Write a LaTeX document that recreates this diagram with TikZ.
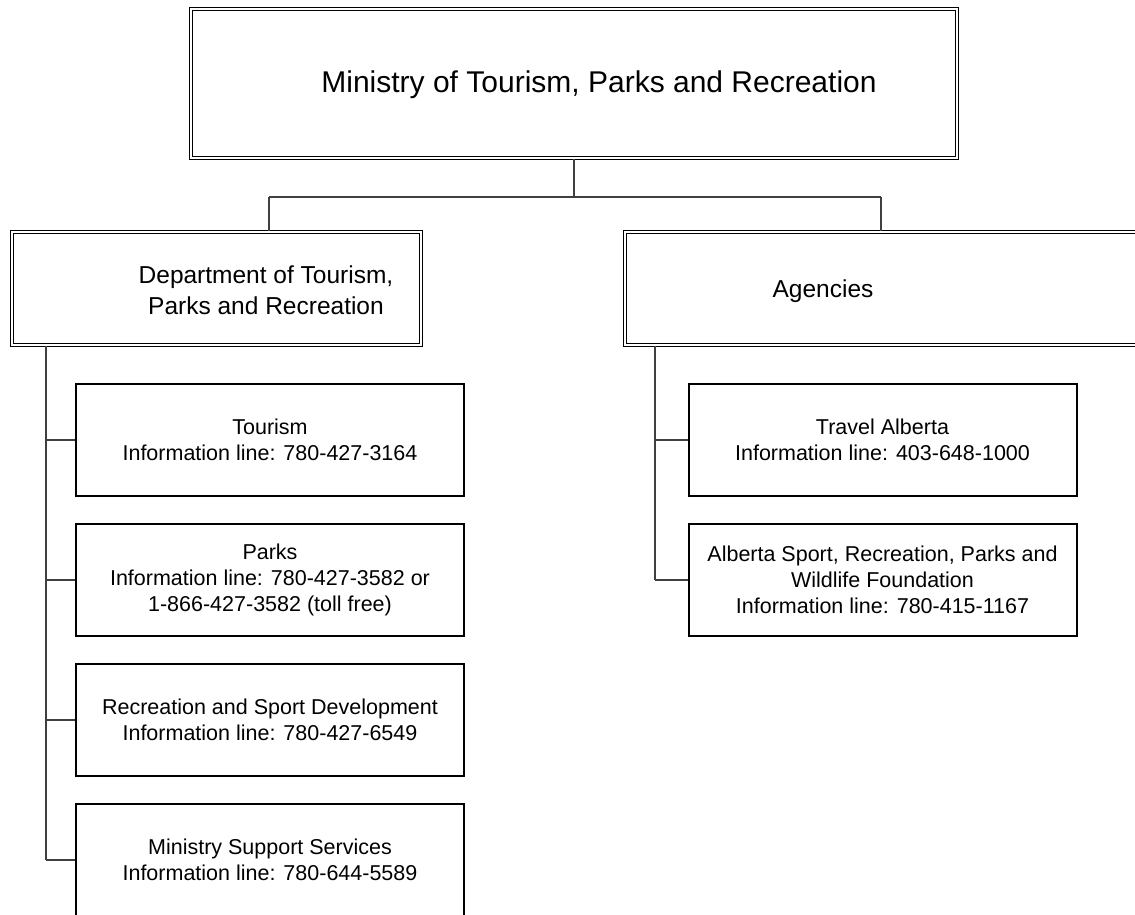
\documentclass[tikz,border=0pt]{standalone}
\usepackage{fontspec}
\setmainfont{Liberation Sans}
\usepackage{tikz}
\usetikzlibrary{positioning, calc}

\begin{document}
\begin{tikzpicture}[
  x=0.5pt, y=-0.5pt,
  dbox/.style={draw, line width=0.7pt, double, double distance=0.8pt, inner sep=0pt},
  ubox/.style={draw, line width=1pt, inner sep=0pt, minimum width=194pt, minimum height=56pt,
    align=center, font=\fontsize{10.75}{13}\selectfont},
  conn/.style={draw, line width=0.55pt, black!75}
  ]
  \clip (0,0) rectangle (1135,915);
  % top level
  \node[dbox, minimum width=383pt, minimum height=74.5pt] (mini) at (574,83.5) {};
  \node[font=\fontsize{15}{18}\selectfont] (minitxt) at (599,85) {Ministry of Tourism, Parks and Recreation};
  % second level
  \node[dbox, minimum width=204.5pt, minimum height=56.5pt] (dept) at (216.5,288.5) {};
  \node[align=center, font=\fontsize{12.25}{15.5}\selectfont] (depttxt) at (266,290) {Department of Tourism,\\Parks and Recreation};
  \node[dbox, minimum width=256pt, minimum height=56.5pt] (agen) at (881,288.5) {};
  \node[font=\fontsize{12.25}{15.5}\selectfont] (agentxt) at (823,291) {Agencies};
  % department units
  \node[ubox] (tour) at (270,440) {Tourism\\Information line: 780-427-3164};
  \node[ubox] (park) at (270,580) {Parks\\Information line: 780-427-3582 or\\1-866-427-3582 (toll free)};
  \node[ubox] (recr) at (270,720) {Recreation and Sport Development\\Information line: 780-427-6549};
  \node[ubox] (msup) at (270,860) {Ministry Support Services\\Information line: 780-644-5589};
  % agencies
  \node[ubox] (trav) at (882.5,440) {Travel Alberta\\Information line: 403-648-1000};
  \node[ubox] (aspr) at (882.5,580) {Alberta Sport, Recreation, Parks and\\Wildlife Foundation\\Information line: 780-415-1167};
  % connectors
  \coordinate (jl) at (269,197);
  \coordinate (jr) at (881,197);
  \draw[conn] (mini.south) -- (mini.south |- jl);
  \draw[conn] (jl) -- (jr);
  \draw[conn] (jl) -- (jl |- dept.north);
  \draw[conn] (jr) -- (jr |- agen.north);
  \coordinate (tl) at (46,346);
  \coordinate (tr) at (655,346);
  \draw[conn] (tl) -- (tl |- msup.west);
  \foreach \n in {tour, park, recr, msup}
    \draw[conn] (tl |- \n.west) -- (\n.west);
  \draw[conn] (tr) -- (tr |- aspr.west);
  \foreach \n in {trav, aspr}
    \draw[conn] (tr |- \n.west) -- (\n.west);
\end{tikzpicture}
\end{document}
